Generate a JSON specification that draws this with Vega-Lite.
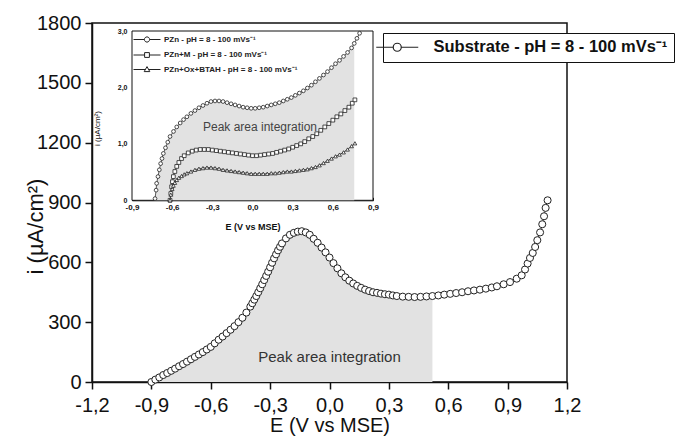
{
  "$schema": "https://vega.github.io/schema/vega-lite/v6.json",
  "width": 475,
  "height": 359,
  "autosize": {"type": "none"},
  "padding": {"left": 92, "top": 23, "right": 113, "bottom": 58},
  "background": "white",
  "config": {
    "font": "Liberation Sans",
    "view": {"stroke": "#111", "strokeWidth": 1.5},
    "axis": {"grid": false, "domainColor": "#111", "tickColor": "#111", "labelColor": "#111", "titleColor": "#111", "titleFontWeight": "normal", "labelOverlap": false, "labelFlush": false}
  },
  "datasets": {
    "main": [
      {"E": -0.9, "i": 0}, {"E": -0.88, "i": 12}, {"E": -0.86, "i": 23}, {"E": -0.84, "i": 35}, {"E": -0.82, "i": 45},
      {"E": -0.8, "i": 56}, {"E": -0.78, "i": 67}, {"E": -0.76, "i": 79}, {"E": -0.74, "i": 90}, {"E": -0.72, "i": 102},
      {"E": -0.7, "i": 114}, {"E": -0.68, "i": 126}, {"E": -0.66, "i": 138}, {"E": -0.64, "i": 150}, {"E": -0.62, "i": 163},
      {"E": -0.6, "i": 176}, {"E": -0.58, "i": 194}, {"E": -0.56, "i": 212}, {"E": -0.54, "i": 228}, {"E": -0.52, "i": 245},
      {"E": -0.5, "i": 262}, {"E": -0.48, "i": 280}, {"E": -0.46, "i": 300}, {"E": -0.44, "i": 322}, {"E": -0.42, "i": 348},
      {"E": -0.4, "i": 378}, {"E": -0.39, "i": 395}, {"E": -0.38, "i": 413}, {"E": -0.37, "i": 431}, {"E": -0.36, "i": 450},
      {"E": -0.35, "i": 470}, {"E": -0.34, "i": 490}, {"E": -0.33, "i": 511}, {"E": -0.32, "i": 532}, {"E": -0.31, "i": 553},
      {"E": -0.3, "i": 575}, {"E": -0.29, "i": 598}, {"E": -0.28, "i": 620}, {"E": -0.27, "i": 640}, {"E": -0.26, "i": 660},
      {"E": -0.25, "i": 678}, {"E": -0.24, "i": 695}, {"E": -0.22, "i": 720}, {"E": -0.2, "i": 738}, {"E": -0.18, "i": 748},
      {"E": -0.16, "i": 754}, {"E": -0.14, "i": 756}, {"E": -0.12, "i": 750}, {"E": -0.1, "i": 738}, {"E": -0.08, "i": 718},
      {"E": -0.06, "i": 698}, {"E": -0.04, "i": 674}, {"E": -0.02, "i": 650}, {"E": 0.0, "i": 624}, {"E": 0.02, "i": 596},
      {"E": 0.04, "i": 570}, {"E": 0.06, "i": 545}, {"E": 0.08, "i": 525}, {"E": 0.1, "i": 508}, {"E": 0.12, "i": 494},
      {"E": 0.14, "i": 482}, {"E": 0.16, "i": 472}, {"E": 0.18, "i": 463}, {"E": 0.2, "i": 456}, {"E": 0.22, "i": 450},
      {"E": 0.24, "i": 447}, {"E": 0.26, "i": 443}, {"E": 0.28, "i": 440}, {"E": 0.3, "i": 438}, {"E": 0.32, "i": 434},
      {"E": 0.34, "i": 431}, {"E": 0.37, "i": 428}, {"E": 0.4, "i": 427}, {"E": 0.43, "i": 426}, {"E": 0.46, "i": 427},
      {"E": 0.49, "i": 429}, {"E": 0.52, "i": 431}, {"E": 0.55, "i": 434}, {"E": 0.58, "i": 438}, {"E": 0.61, "i": 442},
      {"E": 0.64, "i": 446}, {"E": 0.67, "i": 450}, {"E": 0.7, "i": 455}, {"E": 0.73, "i": 459}, {"E": 0.76, "i": 463},
      {"E": 0.79, "i": 468}, {"E": 0.82, "i": 474}, {"E": 0.846, "i": 480}, {"E": 0.88, "i": 490}, {"E": 0.912, "i": 501},
      {"E": 0.946, "i": 518}, {"E": 0.971, "i": 535}, {"E": 0.988, "i": 564}, {"E": 1.001, "i": 594}, {"E": 1.013, "i": 622},
      {"E": 1.027, "i": 647}, {"E": 1.039, "i": 677}, {"E": 1.05, "i": 711}, {"E": 1.064, "i": 750}, {"E": 1.075, "i": 791},
      {"E": 1.084, "i": 831}, {"E": 1.092, "i": 873}, {"E": 1.102, "i": 911}
    ],
    "inset": [
      {"s": "PZn", "E": -0.728, "i": 0.03}, {"s": "PZn", "E": -0.72, "i": 0.18}, {"s": "PZn", "E": -0.716, "i": 0.3},
      {"s": "PZn", "E": -0.706, "i": 0.42}, {"s": "PZn", "E": -0.696, "i": 0.54}, {"s": "PZn", "E": -0.686, "i": 0.65},
      {"s": "PZn", "E": -0.676, "i": 0.74}, {"s": "PZn", "E": -0.666, "i": 0.83}, {"s": "PZn", "E": -0.65, "i": 0.93},
      {"s": "PZn", "E": -0.633, "i": 1.03}, {"s": "PZn", "E": -0.616, "i": 1.13}, {"s": "PZn", "E": -0.59, "i": 1.22},
      {"s": "PZn", "E": -0.566, "i": 1.3}, {"s": "PZn", "E": -0.54, "i": 1.37}, {"s": "PZn", "E": -0.515, "i": 1.43},
      {"s": "PZn", "E": -0.49, "i": 1.48}, {"s": "PZn", "E": -0.46, "i": 1.54}, {"s": "PZn", "E": -0.43, "i": 1.59},
      {"s": "PZn", "E": -0.4, "i": 1.64}, {"s": "PZn", "E": -0.37, "i": 1.68}, {"s": "PZn", "E": -0.34, "i": 1.72},
      {"s": "PZn", "E": -0.31, "i": 1.75}, {"s": "PZn", "E": -0.28, "i": 1.76}, {"s": "PZn", "E": -0.25, "i": 1.76},
      {"s": "PZn", "E": -0.22, "i": 1.75}, {"s": "PZn", "E": -0.19, "i": 1.73}, {"s": "PZn", "E": -0.16, "i": 1.71},
      {"s": "PZn", "E": -0.13, "i": 1.69}, {"s": "PZn", "E": -0.1, "i": 1.67}, {"s": "PZn", "E": -0.07, "i": 1.65},
      {"s": "PZn", "E": -0.04, "i": 1.64}, {"s": "PZn", "E": -0.01, "i": 1.63}, {"s": "PZn", "E": 0.02, "i": 1.63},
      {"s": "PZn", "E": 0.05, "i": 1.64}, {"s": "PZn", "E": 0.08, "i": 1.65}, {"s": "PZn", "E": 0.11, "i": 1.67},
      {"s": "PZn", "E": 0.14, "i": 1.69}, {"s": "PZn", "E": 0.17, "i": 1.71}, {"s": "PZn", "E": 0.2, "i": 1.73},
      {"s": "PZn", "E": 0.23, "i": 1.76}, {"s": "PZn", "E": 0.26, "i": 1.79}, {"s": "PZn", "E": 0.29, "i": 1.82},
      {"s": "PZn", "E": 0.32, "i": 1.86}, {"s": "PZn", "E": 0.35, "i": 1.9}, {"s": "PZn", "E": 0.38, "i": 1.94},
      {"s": "PZn", "E": 0.41, "i": 1.99}, {"s": "PZn", "E": 0.44, "i": 2.04}, {"s": "PZn", "E": 0.47, "i": 2.1},
      {"s": "PZn", "E": 0.5, "i": 2.16}, {"s": "PZn", "E": 0.53, "i": 2.22}, {"s": "PZn", "E": 0.56, "i": 2.28},
      {"s": "PZn", "E": 0.59, "i": 2.35}, {"s": "PZn", "E": 0.62, "i": 2.42}, {"s": "PZn", "E": 0.65, "i": 2.48},
      {"s": "PZn", "E": 0.68, "i": 2.55}, {"s": "PZn", "E": 0.71, "i": 2.62}, {"s": "PZn", "E": 0.74, "i": 2.7},
      {"s": "PZn", "E": 0.76, "i": 2.78}, {"s": "PZn", "E": 0.78, "i": 2.87}, {"s": "PZn", "E": 0.8, "i": 2.96},
      {"s": "PZn+M", "E": -0.616, "i": 0.0}, {"s": "PZn+M", "E": -0.61, "i": 0.12}, {"s": "PZn+M", "E": -0.604, "i": 0.24},
      {"s": "PZn+M", "E": -0.598, "i": 0.33}, {"s": "PZn+M", "E": -0.591, "i": 0.42}, {"s": "PZn+M", "E": -0.58, "i": 0.51},
      {"s": "PZn+M", "E": -0.566, "i": 0.6}, {"s": "PZn+M", "E": -0.55, "i": 0.67}, {"s": "PZn+M", "E": -0.53, "i": 0.74},
      {"s": "PZn+M", "E": -0.51, "i": 0.79}, {"s": "PZn+M", "E": -0.48, "i": 0.84}, {"s": "PZn+M", "E": -0.45, "i": 0.87},
      {"s": "PZn+M", "E": -0.42, "i": 0.89}, {"s": "PZn+M", "E": -0.39, "i": 0.9}, {"s": "PZn+M", "E": -0.36, "i": 0.9},
      {"s": "PZn+M", "E": -0.33, "i": 0.9}, {"s": "PZn+M", "E": -0.3, "i": 0.89}, {"s": "PZn+M", "E": -0.27, "i": 0.88},
      {"s": "PZn+M", "E": -0.24, "i": 0.87}, {"s": "PZn+M", "E": -0.21, "i": 0.86}, {"s": "PZn+M", "E": -0.18, "i": 0.85},
      {"s": "PZn+M", "E": -0.15, "i": 0.84}, {"s": "PZn+M", "E": -0.12, "i": 0.83}, {"s": "PZn+M", "E": -0.09, "i": 0.82},
      {"s": "PZn+M", "E": -0.06, "i": 0.81}, {"s": "PZn+M", "E": -0.03, "i": 0.8}, {"s": "PZn+M", "E": 0.0, "i": 0.79},
      {"s": "PZn+M", "E": 0.03, "i": 0.79}, {"s": "PZn+M", "E": 0.06, "i": 0.8}, {"s": "PZn+M", "E": 0.09, "i": 0.81},
      {"s": "PZn+M", "E": 0.12, "i": 0.82}, {"s": "PZn+M", "E": 0.15, "i": 0.83}, {"s": "PZn+M", "E": 0.18, "i": 0.85},
      {"s": "PZn+M", "E": 0.21, "i": 0.87}, {"s": "PZn+M", "E": 0.24, "i": 0.89}, {"s": "PZn+M", "E": 0.27, "i": 0.91},
      {"s": "PZn+M", "E": 0.3, "i": 0.94}, {"s": "PZn+M", "E": 0.33, "i": 0.97}, {"s": "PZn+M", "E": 0.36, "i": 1.0},
      {"s": "PZn+M", "E": 0.39, "i": 1.04}, {"s": "PZn+M", "E": 0.42, "i": 1.09}, {"s": "PZn+M", "E": 0.45, "i": 1.13},
      {"s": "PZn+M", "E": 0.48, "i": 1.18}, {"s": "PZn+M", "E": 0.51, "i": 1.24}, {"s": "PZn+M", "E": 0.54, "i": 1.3},
      {"s": "PZn+M", "E": 0.57, "i": 1.36}, {"s": "PZn+M", "E": 0.6, "i": 1.42}, {"s": "PZn+M", "E": 0.63, "i": 1.48},
      {"s": "PZn+M", "E": 0.66, "i": 1.53}, {"s": "PZn+M", "E": 0.69, "i": 1.59}, {"s": "PZn+M", "E": 0.72, "i": 1.65},
      {"s": "PZn+M", "E": 0.745, "i": 1.72}, {"s": "PZn+M", "E": 0.765, "i": 1.78},
      {"s": "PZn+Ox+BTAH", "E": -0.616, "i": 0.0}, {"s": "PZn+Ox+BTAH", "E": -0.61, "i": 0.1}, {"s": "PZn+Ox+BTAH", "E": -0.6, "i": 0.2},
      {"s": "PZn+Ox+BTAH", "E": -0.591, "i": 0.26}, {"s": "PZn+Ox+BTAH", "E": -0.58, "i": 0.31}, {"s": "PZn+Ox+BTAH", "E": -0.566, "i": 0.36},
      {"s": "PZn+Ox+BTAH", "E": -0.55, "i": 0.4}, {"s": "PZn+Ox+BTAH", "E": -0.53, "i": 0.43}, {"s": "PZn+Ox+BTAH", "E": -0.51, "i": 0.46},
      {"s": "PZn+Ox+BTAH", "E": -0.49, "i": 0.48}, {"s": "PZn+Ox+BTAH", "E": -0.46, "i": 0.51}, {"s": "PZn+Ox+BTAH", "E": -0.43, "i": 0.54},
      {"s": "PZn+Ox+BTAH", "E": -0.4, "i": 0.56}, {"s": "PZn+Ox+BTAH", "E": -0.37, "i": 0.57}, {"s": "PZn+Ox+BTAH", "E": -0.34, "i": 0.58},
      {"s": "PZn+Ox+BTAH", "E": -0.31, "i": 0.58}, {"s": "PZn+Ox+BTAH", "E": -0.28, "i": 0.57}, {"s": "PZn+Ox+BTAH", "E": -0.25, "i": 0.56},
      {"s": "PZn+Ox+BTAH", "E": -0.22, "i": 0.54}, {"s": "PZn+Ox+BTAH", "E": -0.19, "i": 0.53}, {"s": "PZn+Ox+BTAH", "E": -0.16, "i": 0.52},
      {"s": "PZn+Ox+BTAH", "E": -0.13, "i": 0.51}, {"s": "PZn+Ox+BTAH", "E": -0.1, "i": 0.5}, {"s": "PZn+Ox+BTAH", "E": -0.07, "i": 0.49},
      {"s": "PZn+Ox+BTAH", "E": -0.04, "i": 0.48}, {"s": "PZn+Ox+BTAH", "E": -0.01, "i": 0.47}, {"s": "PZn+Ox+BTAH", "E": 0.02, "i": 0.47},
      {"s": "PZn+Ox+BTAH", "E": 0.05, "i": 0.47}, {"s": "PZn+Ox+BTAH", "E": 0.08, "i": 0.47}, {"s": "PZn+Ox+BTAH", "E": 0.11, "i": 0.47},
      {"s": "PZn+Ox+BTAH", "E": 0.14, "i": 0.48}, {"s": "PZn+Ox+BTAH", "E": 0.17, "i": 0.48}, {"s": "PZn+Ox+BTAH", "E": 0.2, "i": 0.49},
      {"s": "PZn+Ox+BTAH", "E": 0.23, "i": 0.5}, {"s": "PZn+Ox+BTAH", "E": 0.26, "i": 0.51}, {"s": "PZn+Ox+BTAH", "E": 0.29, "i": 0.51},
      {"s": "PZn+Ox+BTAH", "E": 0.32, "i": 0.52}, {"s": "PZn+Ox+BTAH", "E": 0.35, "i": 0.53}, {"s": "PZn+Ox+BTAH", "E": 0.38, "i": 0.54},
      {"s": "PZn+Ox+BTAH", "E": 0.41, "i": 0.55}, {"s": "PZn+Ox+BTAH", "E": 0.44, "i": 0.57}, {"s": "PZn+Ox+BTAH", "E": 0.47, "i": 0.59},
      {"s": "PZn+Ox+BTAH", "E": 0.5, "i": 0.62}, {"s": "PZn+Ox+BTAH", "E": 0.53, "i": 0.66}, {"s": "PZn+Ox+BTAH", "E": 0.56, "i": 0.7},
      {"s": "PZn+Ox+BTAH", "E": 0.59, "i": 0.74}, {"s": "PZn+Ox+BTAH", "E": 0.62, "i": 0.78}, {"s": "PZn+Ox+BTAH", "E": 0.65, "i": 0.81},
      {"s": "PZn+Ox+BTAH", "E": 0.68, "i": 0.85}, {"s": "PZn+Ox+BTAH", "E": 0.71, "i": 0.9}, {"s": "PZn+Ox+BTAH", "E": 0.74, "i": 0.96},
      {"s": "PZn+Ox+BTAH", "E": 0.765, "i": 1.01}
    ]
  },
  "layer": [
    {
      "layer": [
        {
          "data": {"name": "main"},
          "transform": [{"filter": "datum.E <= 0.525"}],
          "mark": {"type": "area", "color": "#e2e2e2"},
          "encoding": {
            "x": {"field": "E", "type": "quantitative", "scale": {"domain": [-1.2, 1.2], "nice": false, "zero": false},
              "axis": {"title": "E (V vs MSE)", "values": [-1.2, -1.05, -0.9, -0.75, -0.6, -0.45, -0.3, -0.15, 0, 0.15, 0.3, 0.45, 0.6, 0.75, 0.9, 1.05, 1.2],
                "labelExpr": "abs(datum.value*10/3-round(datum.value*10/3))<0.01 ? (datum.value<-0.01?'-':'') + replace(format(abs(datum.value),'.1f'),'.',',') : ''",
                "tickSize": {"condition": {"test": "abs(datum.value*10/3-round(datum.value*10/3))<0.01", "value": 7}, "value": 4},
                "labelFontSize": 20, "titleFontSize": 20, "domainWidth": 1.5, "tickWidth": 1.5, "labelPadding": 6,
                "titleY": 43, "titleBaseline": "middle"}},
            "y": {"field": "i", "type": "quantitative", "scale": {"domain": [0, 1800], "nice": false},
              "axis": {"title": "i (µA/cm²)", "values": [0, 150, 300, 450, 600, 750, 900, 1050, 1200, 1350, 1500, 1650, 1800],
                "labelExpr": "datum.value % 300 == 0 ? format(datum.value,'d') : ''",
                "tickSize": {"condition": {"test": "datum.value % 300 == 0", "value": 7}, "value": 4},
                "labelFontSize": 20, "titleFontSize": 22, "domainWidth": 1.5, "tickWidth": 1.5, "labelPadding": 4,
                "titleX": -57, "titleY": 203, "titleBaseline": "middle", "titleAngle": -90}}
          }
        },
        {
          "data": {"name": "main"},
          "mark": {"type": "line", "color": "#444", "strokeWidth": 1},
          "encoding": {"x": {"field": "E", "type": "quantitative"}, "y": {"field": "i", "type": "quantitative"}}
        },
        {
          "data": {"name": "main"},
          "transform": [{"calculate": "'Substrate'", "as": "s"}],
          "mark": {"type": "point", "filled": false, "fill": "white", "size": 50, "strokeWidth": 1, "opacity": 1},
          "encoding": {
            "x": {"field": "E", "type": "quantitative"},
            "y": {"field": "i", "type": "quantitative"},
            "color": {"field": "s", "type": "nominal", "scale": {"range": ["#222"]},
              "legend": {"orient": "none", "legendX": 291, "legendY": 10, "title": null,
                "labelExpr": "datum.label + ' - pH = 8 - 100 mVs⁻¹'", "labelFontSize": 16.5, "labelFontWeight": "bold", "labelColor": "#111", "labelLimit": 0,
                "symbolType": "M-3.5,0L-0.67,0M0.67,0L3.5,0M-0.67,0A0.67,0.67,0,1,1,0.67,0A0.67,0.67,0,1,1,-0.67,0",
                "symbolSize": 144, "symbolStrokeWidth": 1.2, "symbolStrokeColor": "#111", "symbolFillColor": "white",
                "strokeColor": "#111", "fillColor": "white", "padding": 6, "labelOffset": 28}}
          }
        },
        {
          "data": {"values": [{"E": 0.0, "i": 124, "t": "Peak area integration"}]},
          "mark": {"type": "text", "fontSize": 15, "color": "#333"},
          "encoding": {"x": {"field": "E", "type": "quantitative"}, "y": {"field": "i", "type": "quantitative"}, "text": {"field": "t"}}
        }
      ]
    },
    {
      "layer": [
        {
          "data": {"values": [{"x1": -0.9, "x2": 0.9, "y1": 0, "y2": 3}]},
          "mark": {"type": "rect", "fill": "white", "stroke": "#111", "strokeWidth": 1},
          "encoding": {
            "x": {"field": "x1", "type": "quantitative", "scale": {"domain": [-0.9, 0.9], "range": [40, 281], "nice": false, "zero": false},
              "axis": {"orient": "bottom", "offset": -181.7, "title": "E (V vs MSE)",
                "values": [-0.9, -0.75, -0.6, -0.45, -0.3, -0.15, 0, 0.15, 0.3, 0.45, 0.6, 0.75, 0.9],
                "labelExpr": "abs(datum.value*10/3-round(datum.value*10/3))<0.01 ? (datum.value<-0.01?'-':'') + replace(format(abs(datum.value),'.1f'),'.',',') : ''",
                "tickSize": {"condition": {"test": "abs(datum.value*10/3-round(datum.value*10/3))<0.01", "value": -3}, "value": -2},
                "labelFontSize": 8, "labelFontWeight": "bold", "titleFontSize": 9, "titleFontWeight": "bold",
                "domainWidth": 1, "tickWidth": 1, "labelPadding": 6, "titleY": 26, "titleBaseline": "middle"}},
            "x2": {"field": "x2"},
            "y": {"field": "y1", "type": "quantitative", "scale": {"domain": [0, 3], "range": [177.3, 8], "nice": false, "zero": false},
              "axis": {"orient": "left", "offset": -40, "title": "i (µA/cm²)",
                "values": [0, 0.5, 1, 1.5, 2, 2.5, 3],
                "labelExpr": "datum.value == 0 ? '0' : (datum.value % 1 == 0 ? replace(format(datum.value,'.1f'),'.',',') : '')",
                "tickSize": {"condition": {"test": "datum.value % 1 == 0", "value": -3}, "value": -2},
                "labelFontSize": 7, "labelFontWeight": "bold", "titleFontSize": 8, "titleFontWeight": "normal",
                "domainWidth": 1, "tickWidth": 1, "labelPadding": 8, "titleX": -35, "titleY": 105, "titleBaseline": "middle", "titleAngle": -90}},
            "y2": {"field": "y2"}
          }
        },
        {
          "data": {"name": "inset"},
          "transform": [{"filter": "datum.s == 'PZn' && datum.E <= 0.765"}],
          "mark": {"type": "area", "color": "#e2e2e2"},
          "encoding": {"x": {"field": "E", "type": "quantitative"}, "y": {"field": "i", "type": "quantitative"}}
        },
        {
          "data": {"name": "inset"},
          "mark": {"type": "line", "color": "#333", "strokeWidth": 0.8},
          "encoding": {"x": {"field": "E", "type": "quantitative"}, "y": {"field": "i", "type": "quantitative"}, "detail": {"field": "s"}}
        },
        {
          "data": {"name": "inset"},
          "mark": {"type": "point", "filled": false, "fill": "white", "size": 14, "strokeWidth": 0.8, "color": "#222", "opacity": 1},
          "encoding": {
            "x": {"field": "E", "type": "quantitative"},
            "y": {"field": "i", "type": "quantitative"},
            "shape": {"field": "s", "type": "nominal", "scale": {"domain": ["PZn", "PZn+M", "PZn+Ox+BTAH"], "range": ["circle", "square", "triangle-up"]}, "legend": null}
          }
        },
        {
          "data": {"name": "inset"},
          "mark": {"type": "point", "filled": false, "size": 0, "opacity": 0, "color": "#222"},
          "encoding": {
            "x": {"field": "E", "type": "quantitative"},
            "y": {"field": "i", "type": "quantitative"},
            "shape": {"field": "s", "type": "nominal",
              "scale": {"domain": ["PZn", "PZn+M", "PZn+Ox+BTAH"],
                "range": ["M-2.7,0L-0.52,0M0.52,0L2.7,0M-0.52,0A0.52,0.52,0,1,1,0.52,0A0.52,0.52,0,1,1,-0.52,0",
                          "M-2.7,0L-0.48,0M0.48,0L2.7,0M-0.48,-0.48L0.48,-0.48L0.48,0.48L-0.48,0.48Z",
                          "M-2.7,0L-0.32,0M0.32,0L2.7,0M0,-0.58L0.56,0.42L-0.56,0.42Z"]},
              "legend": {"orient": "none", "legendX": 49.5, "legendY": 11, "title": null,
                "labelExpr": "datum.label + ' - pH = 8 - 100 mVs⁻¹'", "labelFontSize": 8, "labelFontWeight": "bold", "labelColor": "#222", "labelLimit": 0,
                "symbolSize": 100, "symbolStrokeWidth": 1, "symbolStrokeColor": "#222", "symbolFillColor": "white", "symbolOpacity": 1,
                "rowPadding": 4.5, "labelOffset": 11.5, "padding": 0}}
          }
        },
        {
          "data": {"values": [{"E": 0.056, "i": 1.3, "t": "Peak area integration"}]},
          "mark": {"type": "text", "fontSize": 12, "color": "#444"},
          "encoding": {"x": {"field": "E", "type": "quantitative"}, "y": {"field": "i", "type": "quantitative"}, "text": {"field": "t"}}
        }
      ],
      "resolve": {"scale": {"shape": "independent"}}
    }
  ],
  "resolve": {"scale": {"x": "independent", "y": "independent", "color": "independent", "shape": "independent"}}
}
